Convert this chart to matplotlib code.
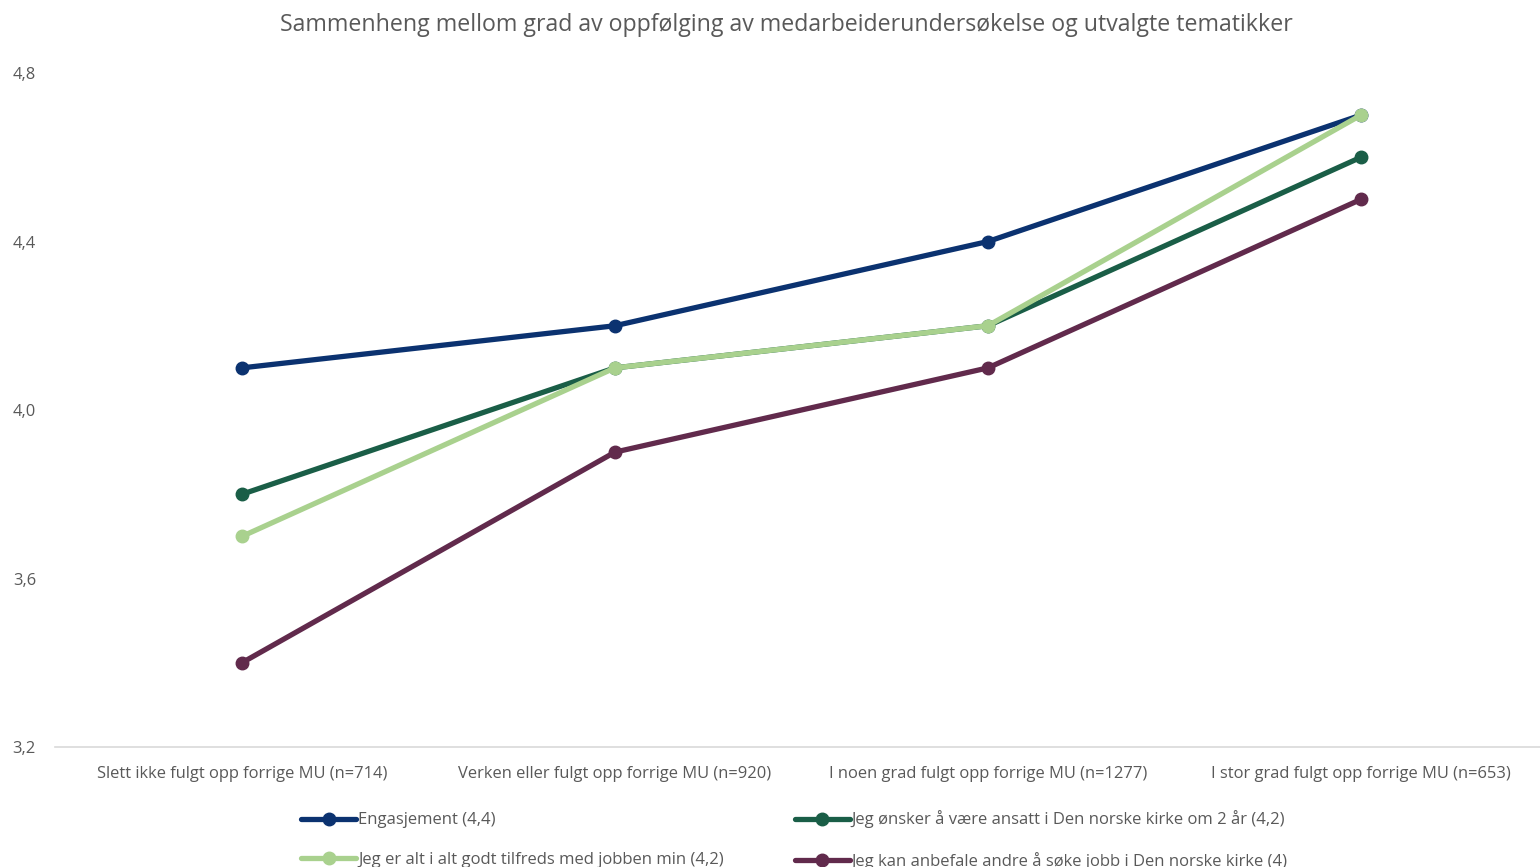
import matplotlib

matplotlib.use("Agg")
import matplotlib.pyplot as plt

categories = [
    "Slett ikke fulgt opp forrige MU (n=714)",
    "Verken eller fulgt opp forrige MU (n=920)",
    "I noen grad fulgt opp forrige MU (n=1277)",
    "I stor grad fulgt opp forrige MU (n=653)",
]
engasjement = [4.1, 4.2, 4.4, 4.7]
ansatt_om_2_aar = [3.8, 4.1, 4.2, 4.6]
tilfreds = [3.7, 4.1, 4.2, 4.7]
anbefale = [3.4, 3.9, 4.1, 4.5]

series_labels = [
    "Engasjement (4,4)",
    "Jeg ønsker å være ansatt i Den norske kirke om 2 år (4,2)",
    "Jeg er alt i alt godt tilfreds med jobben min (4,2)",
    "Jeg kan anbefale andre å søke jobb i Den norske kirke (4)",
]
y_ticks = [3.2, 3.6, 4.0, 4.4, 4.8]

colors = ["#0b3270", "#1a5e47", "#a9d18e", "#612a4c"]
text_color = "#595959"

plt.rcParams["font.family"] = ["Open Sans", "DejaVu Sans"]

fig = plt.figure(figsize=(15.4, 8.67), dpi=100)
ax = fig.add_axes([0.036, 0.1384, 0.964, 0.7774])

x = list(range(len(categories)))
handles = []
for values, color, label in zip([engasjement, ansatt_om_2_aar, tilfreds, anbefale], colors, series_labels):
    (h,) = ax.plot(x, values, color=color, lw=3.8, marker="o", ms=9, label=label, solid_capstyle="round")
    handles.append(h)

ax.set_xlim(-0.5, 3.48)
ax.set_ylim(3.2, 4.8)
ax.set_yticks(y_ticks)
ax.set_yticklabels([f"{v:.1f}".replace(".", ",") for v in y_ticks])
ax.set_xticks(x)
ax.set_xticklabels(categories)
ax.tick_params(axis="both", length=0, labelsize=11.9, colors=text_color)
ax.tick_params(axis="x", pad=14)
ax.tick_params(axis="y", pad=14)
for side in ["top", "right", "left"]:
    ax.spines[side].set_visible(False)
ax.spines["bottom"].set_color("#d9d9d9")
ax.spines["bottom"].set_linewidth(1.2)

fig.text(0.5104, 0.971, "Sammenheng mellom grad av oppfølging av medarbeiderundersøkelse og utvalgte tematikker",
         ha="center", va="center", fontsize=16.7, color=text_color)

# legend order: row-wise (Engasjement, ansatt / tilfreds, anbefale)
order = [0, 2, 1, 3]
fig.legend([handles[i] for i in order], [series_labels[i] for i in order],
           ncol=2, loc="center left", bbox_to_anchor=(0.186, 0.031), frameon=False,
           fontsize=12, labelcolor=text_color, handlelength=3.3, handletextpad=0.1,
           columnspacing=4.27, labelspacing=1.4)

fig.savefig("out.png", dpi=100)
